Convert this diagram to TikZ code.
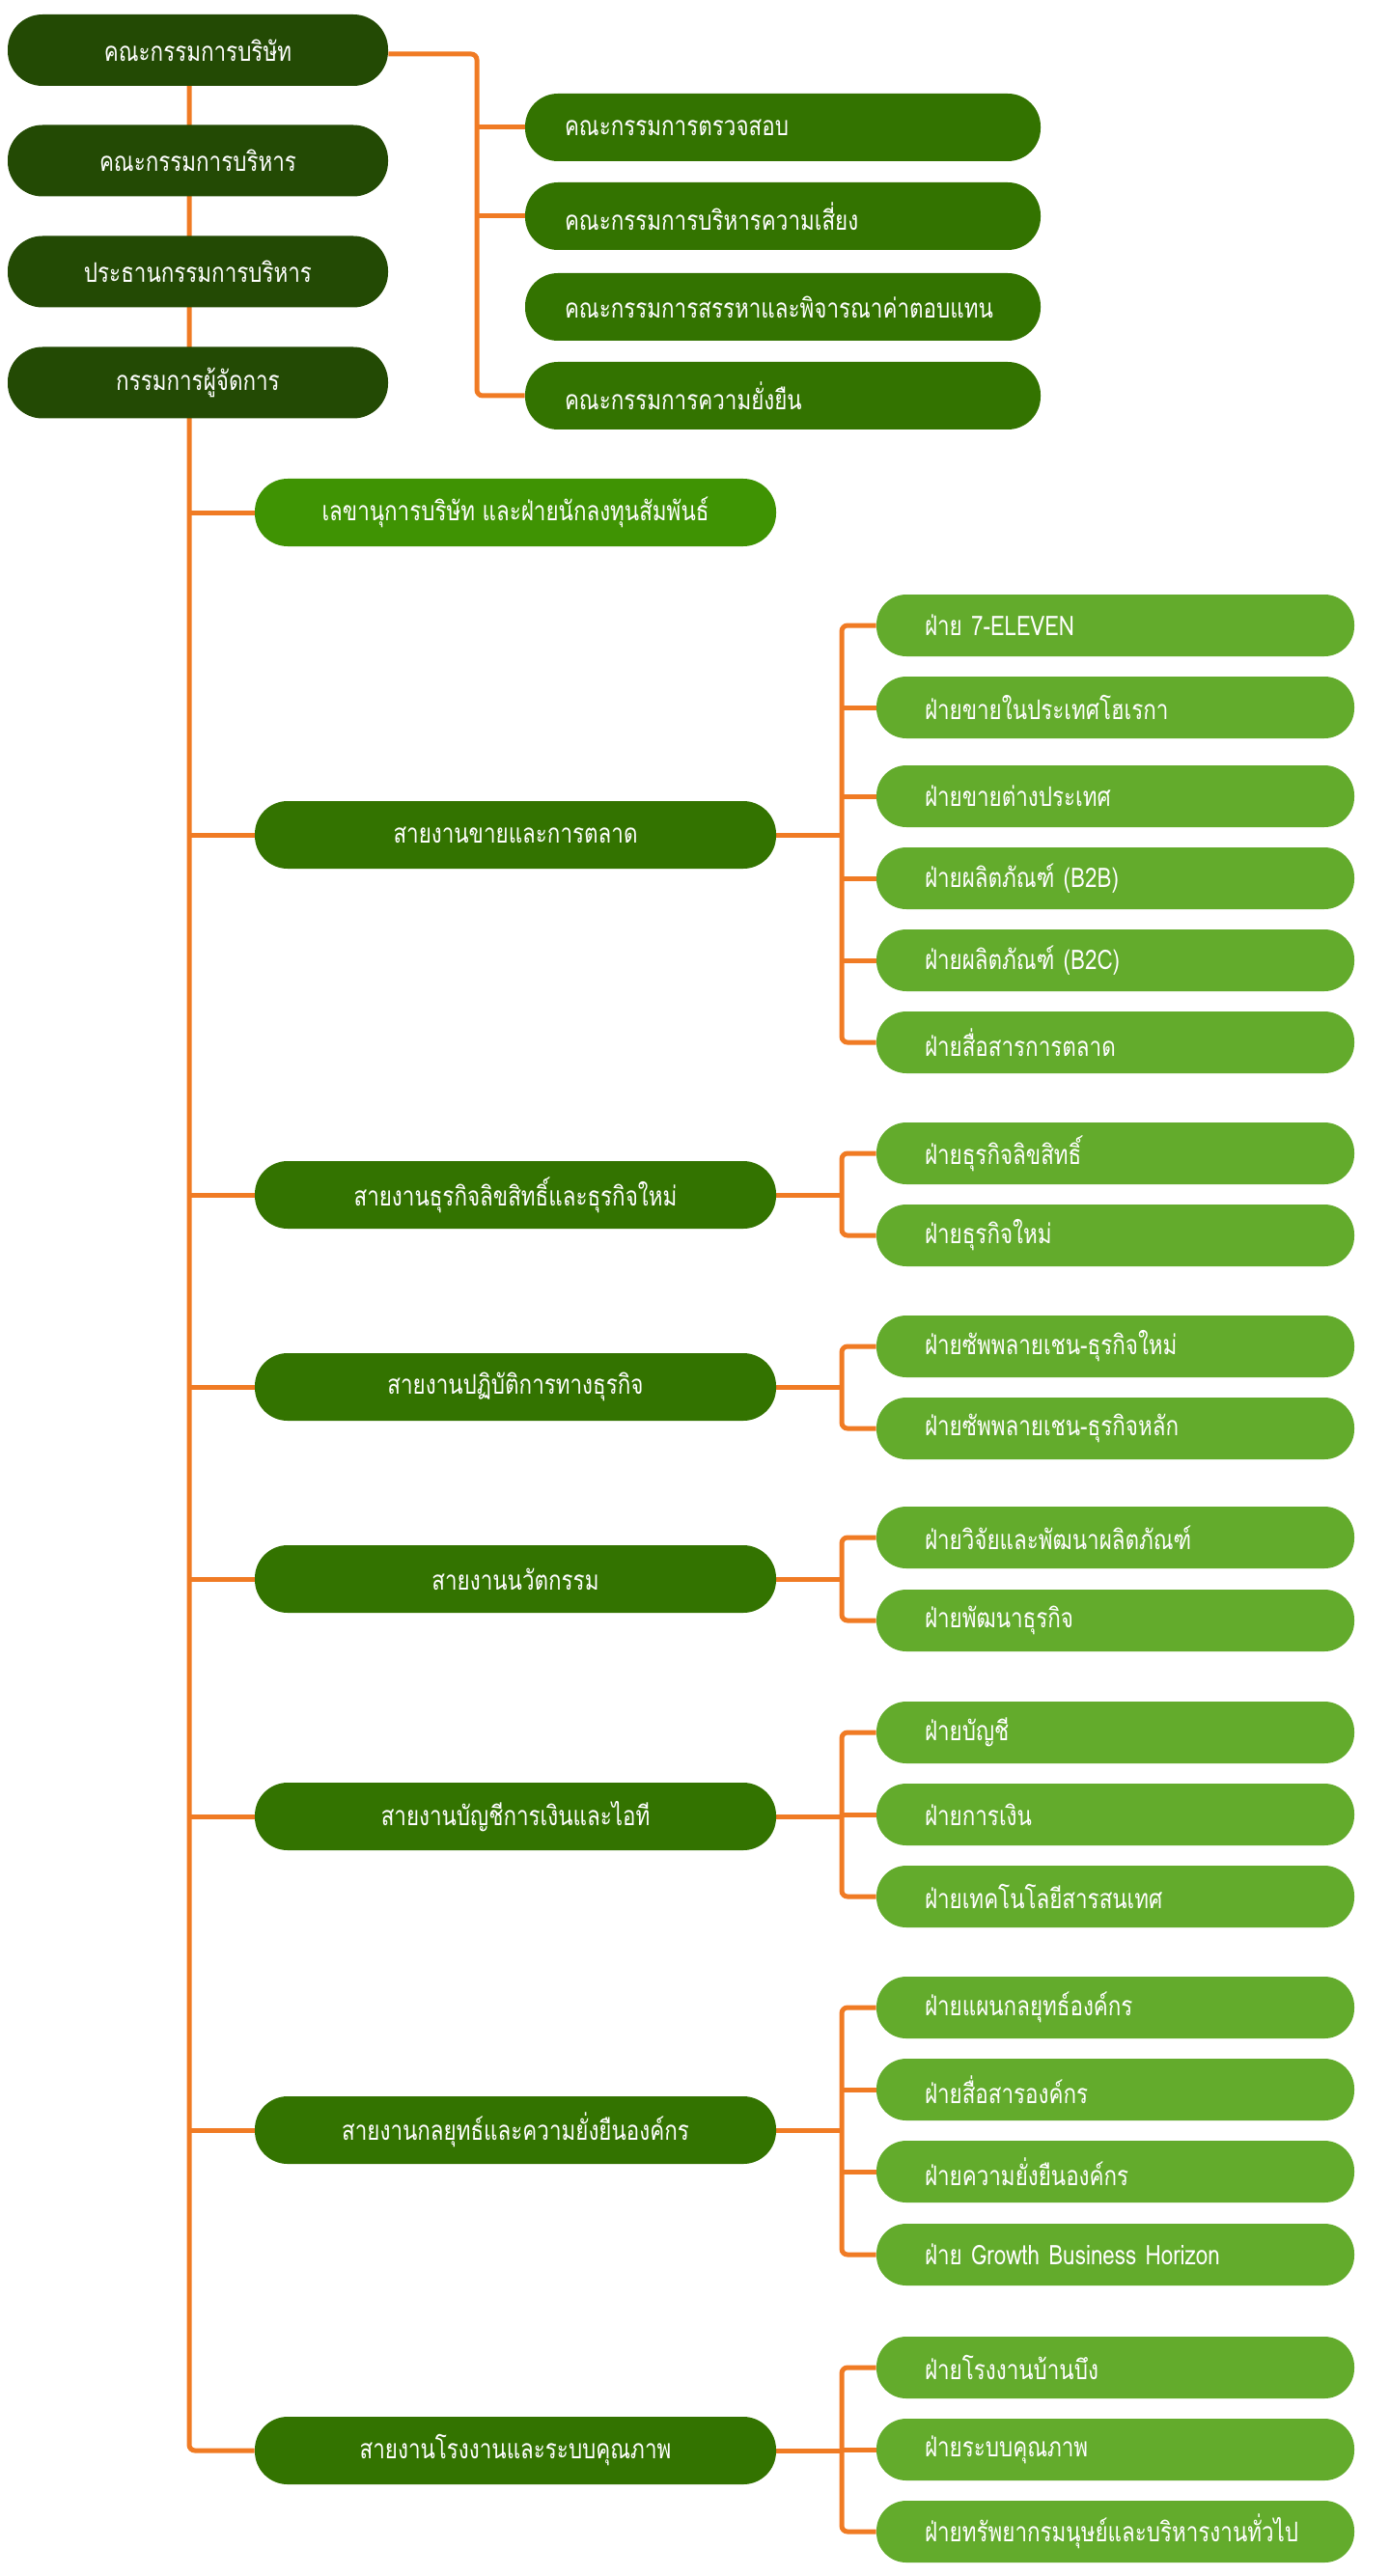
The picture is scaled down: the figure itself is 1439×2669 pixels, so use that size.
\documentclass[tikz,border=0pt]{standalone}
\usepackage{fontspec}
\setmainfont[Script=Thai,FakeStretch=0.8]{Loma}
\usetikzlibrary{backgrounds}
\definecolor{darkg}{HTML}{234A04}
\definecolor{midg}{HTML}{337300}
\definecolor{secg}{HTML}{3F9303}
\definecolor{lightg}{HTML}{63AB2C}
\definecolor{orng}{HTML}{F07B24}
\begin{document}
\begin{tikzpicture}[x=0.5pt,y=-0.5pt,
  box/.style={rectangle, inner sep=0pt, text=white, font=\fontsize{14}{16}\selectfont},
  topbox/.style={box, fill=darkg, minimum width=197pt, minimum height=37pt, rounded corners=18pt},
  comm/.style={box, fill=midg, minimum height=35pt, rounded corners=17pt, inner xsep=20.5pt, text width=226pt, align=left},
  lvtwo/.style={box, fill=midg, minimum width=270pt, minimum height=35pt, rounded corners=17pt},
  secbox/.style={lvtwo, fill=secg},
  lvthree/.style={box, fill=lightg, minimum height=32pt, rounded corners=15.5pt, inner xsep=25pt, text width=197.5pt, align=left},
  conn/.style={draw=orng, line width=2.5pt}
]
\useasboundingbox (0,0) rectangle (1439,2669);

% left column
\node[topbox] (t1) at (205,52) {คณะกรรมการบริษัท};
\node[topbox] (t2) at (205,166.5) {คณะกรรมการบริหาร};
\node[topbox] (t3) at (205,281.5) {ประธานกรรมการบริหาร};
\node[topbox] (t4) at (205,396.5) {กรรมการผู้จัดการ};

% committees
\node[comm] (c1) at (811,132) {คณะกรรมการตรวจสอบ};
\node[comm] (c2) at (811,224) {คณะกรรมการบริหารความเสี่ยง};
\node[comm] (c3) at (811,318) {คณะกรรมการสรรหาและพิจารณาค่าตอบแทน};
\node[comm] (c4) at (811,410) {คณะกรรมการความยั่งยืน};

% level two
\node[secbox] (sec) at (534,531) {เลขานุการบริษัท และฝ่ายนักลงทุนสัมพันธ์};
\node[lvtwo] (s1) at (534,865) {สายงานขายและการตลาด};
\node[lvtwo] (s2) at (534,1238) {สายงานธุรกิจลิขสิทธิ์และธุรกิจใหม่};
\node[lvtwo] (s3) at (534,1437) {สายงานปฏิบัติการทางธุรกิจ};
\node[lvtwo] (s4) at (534,1636) {สายงานนวัตกรรม};
\node[lvtwo] (s5) at (534,1882) {สายงานบัญชีการเงินและไอที};
\node[lvtwo] (s6) at (534,2207) {สายงานกลยุทธ์และความยั่งยืนองค์กร};
\node[lvtwo] (s7) at (534,2539) {สายงานโรงงานและระบบคุณภาพ};

% level three
\node[lvthree] (a1) at (1155.5,648) {ฝ่าย 7-ELEVEN};
\node[lvthree] (a2) at (1155.5,733) {ฝ่ายขายในประเทศโฮเรกา};
\node[lvthree] (a3) at (1155.5,825) {ฝ่ายขายต่างประเทศ};
\node[lvthree] (a4) at (1155.5,910) {ฝ่ายผลิตภัณฑ์ (B2B)};
\node[lvthree] (a5) at (1155.5,995) {ฝ่ายผลิตภัณฑ์ (B2C)};
\node[lvthree] (a6) at (1155.5,1080) {ฝ่ายสื่อสารการตลาด};

\node[lvthree] (b1) at (1155.5,1195) {ฝ่ายธุรกิจลิขสิทธิ์};
\node[lvthree] (b2) at (1155.5,1280) {ฝ่ายธุรกิจใหม่};

\node[lvthree] (d1) at (1155.5,1395) {ฝ่ายซัพพลายเชน-ธุรกิจใหม่};
\node[lvthree] (d2) at (1155.5,1480) {ฝ่ายซัพพลายเชน-ธุรกิจหลัก};

\node[lvthree] (e1) at (1155.5,1593) {ฝ่ายวิจัยและพัฒนาผลิตภัณฑ์};
\node[lvthree] (e2) at (1155.5,1679) {ฝ่ายพัฒนาธุรกิจ};

\node[lvthree] (f1) at (1155.5,1795) {ฝ่ายบัญชี};
\node[lvthree] (f2) at (1155.5,1880) {ฝ่ายการเงิน};
\node[lvthree] (f3) at (1155.5,1965) {ฝ่ายเทคโนโลยีสารสนเทศ};

\node[lvthree] (g1) at (1155.5,2080) {ฝ่ายแผนกลยุทธ์องค์กร};
\node[lvthree] (g2) at (1155.5,2165) {ฝ่ายสื่อสารองค์กร};
\node[lvthree] (g3) at (1155.5,2250) {ฝ่ายความยั่งยืนองค์กร};
\node[lvthree] (g4) at (1155.5,2336) {ฝ่าย Growth Business Horizon};

\node[lvthree] (h1) at (1155.5,2453) {ฝ่ายโรงงานบ้านบึง};
\node[lvthree] (h2) at (1155.5,2538) {ฝ่ายระบบคุณภาพ};
\node[lvthree] (h3) at (1155.5,2623) {ฝ่ายทรัพยากรมนุษย์และบริหารงานทั่วไป};

\coordinate (sp) at (196,52);
\coordinate (cx) at (494,56);
\coordinate (bx) at (872,0);

\begin{pgfonlayer}{background}
  % spine
  \draw[conn, rounded corners=3pt] (sp) |- (s7.west);
  \foreach \n in {sec,s1,s2,s3,s4,s5,s6} \draw[conn] (sp |- \n.west) -- (\n.west);
  % committees
  \draw[conn, rounded corners=3pt] (t1.east |- cx) -| (cx |- c4.west) -- (c4.west);
  \draw[conn] (cx |- c1.west) -- (c1.west);
  \draw[conn] (cx |- c2.west) -- (c2.west);
  % groups
  \foreach \p/\f/\l/\mid in {s1/a1/a6/{a2,a3,a4,a5}, s2/b1/b2/{}, s3/d1/d2/{}, s4/e1/e2/{}, s5/f1/f3/{f2}, s6/g1/g4/{g2,g3}, s7/h1/h3/{h2}} {
    \draw[conn] (\p.east) -- (bx |- \p.east);
    \draw[conn, rounded corners=3pt] (\f.west) -| (bx |- \l.west) -- (\l.west);
    \foreach \m in \mid \draw[conn] (bx |- \m.west) -- (\m.west);
  }
\end{pgfonlayer}
\end{tikzpicture}
\end{document}
